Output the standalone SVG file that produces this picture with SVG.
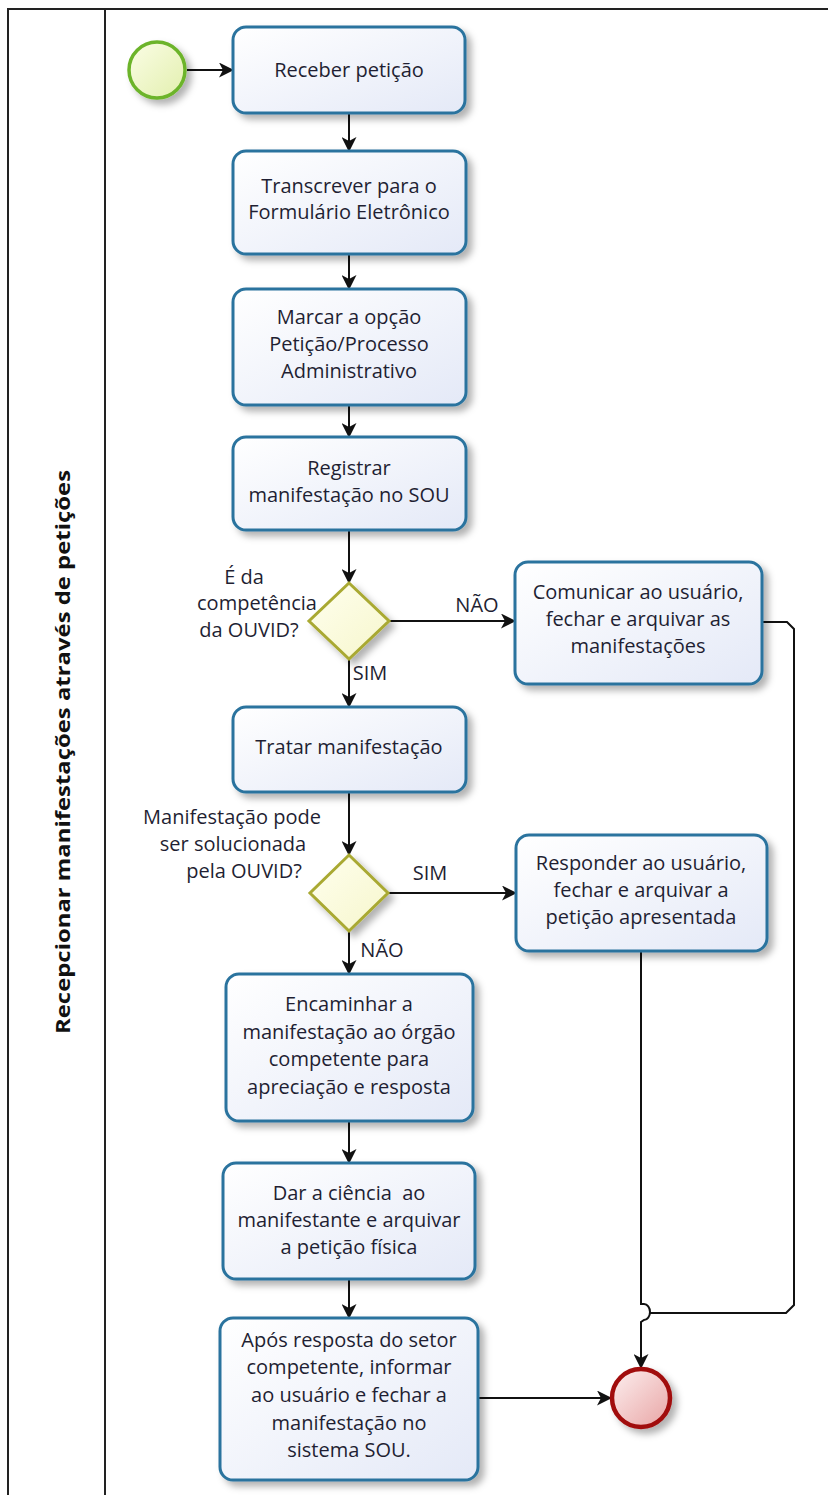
<svg xmlns="http://www.w3.org/2000/svg" width="828" height="1495" viewBox="0 0 828 1495">
  <defs>
    <linearGradient id="taskFill" x1="0" y1="0" x2="1" y2="1">
      <stop offset="0" stop-color="#ffffff"/>
      <stop offset="1" stop-color="#e4e9f7"/>
    </linearGradient>
    <linearGradient id="gateFill" x1="0" y1="0" x2="1" y2="1">
      <stop offset="0" stop-color="#ffffee"/>
      <stop offset="1" stop-color="#f6f6cc"/>
    </linearGradient>
    <linearGradient id="startFill" x1="0" y1="0" x2="1" y2="1">
      <stop offset="0" stop-color="#fbfde6"/>
      <stop offset="1" stop-color="#e2efae"/>
    </linearGradient>
    <linearGradient id="endFill" x1="0" y1="0" x2="1" y2="1">
      <stop offset="0" stop-color="#fdf0f0"/>
      <stop offset="1" stop-color="#e8a4a4"/>
    </linearGradient>
    <filter id="shadow" x="-20%" y="-20%" width="150%" height="150%">
      <feDropShadow dx="5" dy="5" stdDeviation="3.5" flood-color="#000" flood-opacity="0.3"/>
    </filter>
    <marker id="arrow" viewBox="0 0 15 15" markerWidth="15" markerHeight="15" refX="14" refY="7.5" orient="auto" markerUnits="userSpaceOnUse">
      <path d="M0,0 L15,7.5 L0,15 L4,7.5 z" fill="#111"/>
    </marker>
  </defs>
  <style>
    .task { fill: url(#taskFill); stroke: #2a739e; stroke-width: 3; filter: url(#shadow); }
    .gate { fill: url(#gateFill); stroke: #a9a932; stroke-width: 3; filter: url(#shadow); }
    .lbl { font-family: "Open Sans", "DejaVu Sans", sans-serif; font-size: 20px; fill: #1f1f33; text-anchor: middle; white-space: pre; }
    .flow { fill: none; stroke: #111; stroke-width: 2; }
    .arr { marker-end: url(#arrow); }
  </style>

  <!-- pool and lane -->
  <g id="pool">
    <rect x="8" y="9" width="830" height="1500" fill="#fff" stroke="#222" stroke-width="2"/>
    <line x1="105" y1="9" x2="105" y2="1495" stroke="#222" stroke-width="2"/>
    <text x="0" y="0" transform="translate(70 752) rotate(-90)" font-family="'Open Sans', 'DejaVu Sans', sans-serif" font-size="20" font-weight="bold" fill="#111" text-anchor="middle" textLength="564" lengthAdjust="spacingAndGlyphs">Recepcionar manifestações através de petições</text>
  </g>

  <!-- sequence flows -->
  <g id="connectors">
    <line class="flow arr" x1="187" y1="70" x2="233" y2="70"/>
    <line class="flow arr" x1="349" y1="113" x2="349" y2="151"/>
    <line class="flow arr" x1="349" y1="254" x2="349" y2="289"/>
    <line class="flow arr" x1="349" y1="405" x2="349" y2="437"/>
    <line class="flow arr" x1="349" y1="530" x2="349" y2="583"/>
    <line class="flow arr" x1="389" y1="621" x2="515" y2="621"/>
    <line class="flow arr" x1="349" y1="659" x2="349" y2="707"/>
    <line class="flow arr" x1="349" y1="792" x2="349" y2="855"/>
    <line class="flow arr" x1="388" y1="893" x2="516" y2="893"/>
    <line class="flow arr" x1="349" y1="931" x2="349" y2="974"/>
    <line class="flow arr" x1="349" y1="1121" x2="349" y2="1163"/>
    <line class="flow arr" x1="349" y1="1279" x2="349" y2="1318"/>
    <line class="flow arr" x1="478" y1="1398" x2="611" y2="1398"/>
    <path class="flow" d="M762,622 L787,622 L794,629 L794,1305 L786,1313 L649,1313"/>
    <path class="flow arr" d="M641,952 L641,1304 L644,1304 A6,8 0 0 1 644,1320 L641,1322 L641,1368"/>
  </g>

  <g id="start">
    <circle cx="157" cy="70" r="28" fill="url(#startFill)" stroke="#6cb42a" stroke-width="3.5" filter="url(#shadow)"/>
  </g>

  <g id="t1">
    <rect class="task" x="233" y="27" width="232" height="86" rx="13"/>
    <text class="lbl" x="349" y="77">Receber petição</text>
  </g>

  <g id="t2">
    <rect class="task" x="233" y="151" width="233" height="103" rx="13"/>
    <text class="lbl" x="349" y="193">Transcrever para o</text>
    <text class="lbl" x="349" y="219">Formulário Eletrônico</text>
  </g>

  <g id="t3">
    <rect class="task" x="233" y="289" width="233" height="116" rx="13"/>
    <text class="lbl" x="349" y="324">Marcar a opção</text>
    <text class="lbl" x="349" y="351">Petição/Processo</text>
    <text class="lbl" x="349" y="378">Administrativo</text>
  </g>

  <g id="t4">
    <rect class="task" x="233" y="437" width="233" height="93" rx="13"/>
    <text class="lbl" x="349" y="475">Registrar</text>
    <text class="lbl" x="349" y="502">manifestação no SOU</text>
  </g>

  <g id="g1">
    <polygon class="gate" points="349,583 389,621 349,659 309,621"/>
    <text class="lbl" x="244" y="584">É da</text>
    <text class="lbl" x="257" y="610">competência</text>
    <text class="lbl" x="249" y="637">da OUVID?</text>
    <text class="lbl" x="477" y="612">NÃO</text>
    <text class="lbl" x="370" y="680">SIM</text>
  </g>

  <g id="t5">
    <rect class="task" x="515" y="562" width="247" height="122" rx="13"/>
    <text class="lbl" x="638" y="599">Comunicar ao usuário,</text>
    <text class="lbl" x="638" y="626">fechar e arquivar as</text>
    <text class="lbl" x="638" y="653">manifestações</text>
  </g>

  <g id="t6">
    <rect class="task" x="233" y="707" width="233" height="85" rx="13"/>
    <text class="lbl" x="349" y="754">Tratar manifestação</text>
  </g>

  <g id="g2">
    <polygon class="gate" points="349,855 388,893 349,931 310,893"/>
    <text class="lbl" x="232" y="824">Manifestação pode</text>
    <text class="lbl" x="233" y="851">ser solucionada</text>
    <text class="lbl" x="244" y="878">pela OUVID?</text>
    <text class="lbl" x="430" y="880">SIM</text>
    <text class="lbl" x="382" y="957">NÃO</text>
  </g>

  <g id="t7">
    <rect class="task" x="516" y="835" width="251" height="116" rx="13"/>
    <text class="lbl" x="641" y="870">Responder ao usuário,</text>
    <text class="lbl" x="641" y="897">fechar e arquivar a</text>
    <text class="lbl" x="641" y="924">petição apresentada</text>
  </g>

  <g id="t8">
    <rect class="task" x="226" y="974" width="247" height="147" rx="13"/>
    <text class="lbl" x="349" y="1011">Encaminhar a</text>
    <text class="lbl" x="349" y="1039">manifestação ao órgão</text>
    <text class="lbl" x="349" y="1066">competente para</text>
    <text class="lbl" x="349" y="1094">apreciação e resposta</text>
  </g>

  <g id="t9">
    <rect class="task" x="223" y="1163" width="252" height="116" rx="13"/>
    <text class="lbl" x="349" y="1200" xml:space="preserve">Dar a ciência  ao</text>
    <text class="lbl" x="349" y="1227">manifestante e arquivar</text>
    <text class="lbl" x="349" y="1254">a petição física</text>
  </g>

  <g id="t10">
    <rect class="task" x="220" y="1318" width="258" height="162" rx="13"/>
    <text class="lbl" x="349" y="1347">Após resposta do setor</text>
    <text class="lbl" x="349" y="1374">competente, informar</text>
    <text class="lbl" x="349" y="1402">ao usuário e fechar a</text>
    <text class="lbl" x="349" y="1430">manifestação no</text>
    <text class="lbl" x="349" y="1457">sistema SOU.</text>
  </g>

  <g id="end">
    <circle cx="641" cy="1398" r="29" fill="url(#endFill)" stroke="#a10c0c" stroke-width="4.5" filter="url(#shadow)"/>
  </g>
</svg>
